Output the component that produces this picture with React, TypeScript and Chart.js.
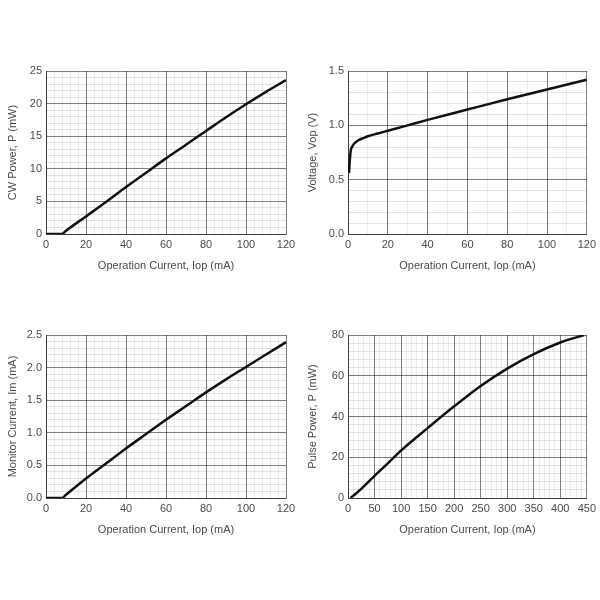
import React, { useEffect, useRef } from 'react';
import { Chart, registerables } from 'chart.js';
Chart.register(...registerables);

// Chart 1: CW Power vs Operation Current
const cwCurrent = [0, 8, 10, 20, 30, 40, 50, 60, 70, 80, 90, 100, 110, 120];
const cwPower = [0, 0, 0.5, 2.7, 4.9, 7.2, 9.4, 11.6, 13.7, 15.8, 17.9, 19.9, 21.8, 23.6];

// Chart 2: Voltage vs Operation Current
const vCurrent = [0.5, 1, 1.5, 2, 3, 5, 8, 10, 15, 20, 30, 40, 60, 80, 100, 120];
const vVoltage = [0.56, 0.7, 0.78, 0.8, 0.83, 0.86, 0.885, 0.9, 0.925, 0.95, 1.0, 1.05, 1.145, 1.24, 1.33, 1.42];

// Chart 3: Monitor Current vs Operation Current
const imCurrent = [0, 8, 10, 20, 30, 40, 50, 60, 70, 80, 90, 100, 110, 120];
const imMonitor = [0, 0, 0.05, 0.3, 0.53, 0.76, 0.98, 1.2, 1.41, 1.62, 1.82, 2.01, 2.2, 2.39];

// Chart 4: Pulse Power vs Operation Current
const ppCurrent = [5, 25, 50, 75, 100, 150, 200, 250, 300, 350, 400, 445];
const ppPower = [0, 4.5, 10.9, 17, 23.3, 34.3, 45, 55, 63.5, 70.6, 76.3, 80];

const xTitle = 'Operation Current, Iop (mA)';

type Spec = {
  left: number;
  top: number;
  yWidth: number;
  rightPad: number;
  xs: number[];
  ys: number[];
  xMax: number;
  xMajor: number;
  xMinor: number;
  yMax: number;
  yMajor: number;
  yMinor: number;
  yDecimals: number;
  yTitle: string;
};

const isMajor = (v: number, major: number) => Math.abs(v / major - Math.round(v / major)) < 1e-6;
const FONT = { family: '"Liberation Sans", Arial, sans-serif', size: 11 };
const TEXT = '#4a4a4a';
const MAJOR = 'rgba(0,0,0,0.5)';
const MINOR_X = 'rgba(0,0,0,0.075)';
const MINOR_Y = 'rgba(0,0,0,0.11)';

function Panel(props: Spec) {
  const ref = useRef<HTMLCanvasElement | null>(null);
  useEffect(() => {
    if (!ref.current) return;
    const p = props;
    const chart = new Chart(ref.current, {
      type: 'line',
      data: {
        datasets: [
          {
            data: p.xs.map((x, i) => ({ x, y: p.ys[i] })),
            borderColor: '#111',
            borderWidth: 2.5,
            pointRadius: 0,
            cubicInterpolationMode: 'monotone',
            fill: false,
          },
        ],
      },
      options: {
        animation: false,
        responsive: false,
        maintainAspectRatio: false,
        layout: { padding: { top: 71, right: p.rightPad, left: 0, bottom: 23 } },
        plugins: { legend: { display: false }, tooltip: { enabled: false } },
        scales: {
          x: {
            type: 'linear',
            min: 0,
            max: p.xMax,
            afterFit: (s: any) => {
              s.height = 43;
            },
            ticks: {
              stepSize: p.xMinor,
              autoSkip: false,
              maxRotation: 0,
              padding: 4,
              color: TEXT,
              font: FONT,
              callback: (v: any) => (isMajor(Number(v), p.xMajor) ? String(Math.round(Number(v))) : ''),
            },
            grid: {
              drawTicks: false,
              color: (ctx: any) => (isMajor(ctx.tick.value, p.xMajor) ? MAJOR : MINOR_X),
              lineWidth: 1,
            },
            border: { display: true, color: MAJOR },
            title: { display: true, text: xTitle, color: TEXT, font: FONT, padding: { top: 4, bottom: 4 } },
          },
          y: {
            type: 'linear',
            min: 0,
            max: p.yMax,
            afterFit: (s: any) => {
              s.width = p.yWidth;
            },
            ticks: {
              stepSize: p.yMinor,
              autoSkip: false,
              padding: 4,
              color: TEXT,
              font: FONT,
              callback: (v: any) => (isMajor(Number(v), p.yMajor) ? Number(v).toFixed(p.yDecimals) : ''),
            },
            grid: {
              drawTicks: false,
              color: (ctx: any) => (isMajor(ctx.tick.value, p.yMajor) ? MAJOR : MINOR_Y),
              lineWidth: 1,
            },
            border: { display: true, color: MAJOR },
            title: { display: true, text: p.yTitle, color: TEXT, font: FONT, padding: { top: 6, bottom: 4 } },
          },
        },
      },
    } as any);
    return () => chart.destroy();
  }, []);
  return (
    <canvas
      ref={ref}
      width={300}
      height={300}
      style={{ position: 'absolute', left: props.left, top: props.top, width: 300, height: 300 }}
    />
  );
}

export default function App() {
  return (
    <div style={{ position: 'absolute', left: 0, top: 0, width: 600, height: 600, background: '#fff' }}>
      <Panel left={0} top={0} yWidth={46} rightPad={14} xs={cwCurrent} ys={cwPower} xMax={120} xMajor={20} xMinor={4}
        yMax={25} yMajor={5} yMinor={1} yDecimals={0} yTitle="CW Power, P (mW)" />
      <Panel left={300} top={0} yWidth={48} rightPad={13} xs={vCurrent} ys={vVoltage} xMax={120} xMajor={20} xMinor={10}
        yMax={1.5} yMajor={0.5} yMinor={0.1} yDecimals={1} yTitle="Voltage, Vop (V)" />
      <Panel left={0} top={264} yWidth={46} rightPad={14} xs={imCurrent} ys={imMonitor} xMax={120} xMajor={20} xMinor={4}
        yMax={2.5} yMajor={0.5} yMinor={0.1} yDecimals={1} yTitle="Monitor Current, Im (mA)" />
      <Panel left={300} top={264} yWidth={48} rightPad={13} xs={ppCurrent} ys={ppPower} xMax={450} xMajor={50} xMinor={10}
        yMax={80} yMajor={20} yMinor={4} yDecimals={0} yTitle="Pulse Power, P (mW)" />
    </div>
  );
}
